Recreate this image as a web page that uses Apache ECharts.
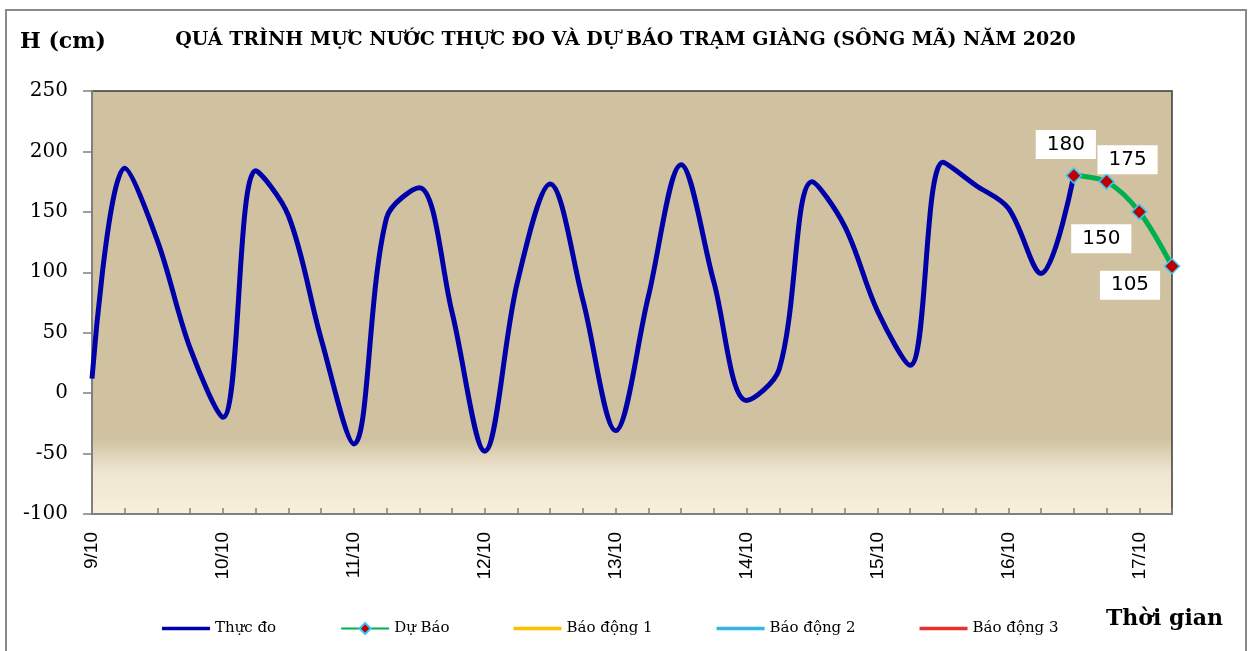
<!DOCTYPE html>
<html>
<head>
<meta charset="utf-8">
<script src="https://cdn.jsdelivr.net/npm/echarts@6/dist/echarts.min.js"></script>
<style>
html,body{margin:0;padding:0;background:#fff;}
#c{width:1251px;height:651px;}
</style>
</head>
<body>
<div id="c"></div>
<script>
// ---- data ----
const categories = [
 '9/10 00h','9/10 06h','9/10 12h','9/10 18h',
 '10/10 00h','10/10 06h','10/10 12h','10/10 18h',
 '11/10 00h','11/10 06h','11/10 12h','11/10 18h',
 '12/10 00h','12/10 06h','12/10 12h','12/10 18h',
 '13/10 00h','13/10 06h','13/10 12h','13/10 18h',
 '14/10 00h','14/10 06h','14/10 12h','14/10 18h',
 '15/10 00h','15/10 06h','15/10 12h','15/10 18h',
 '16/10 00h','16/10 06h','16/10 12h','16/10 18h',
 '17/10 00h','17/10 06h'
];
const observed = [12,186,126,37, -20,184,147,45, -42,145,170,67, -48,92,173,77,
 -31,80,189,92, -6,20,175,138, 68,23,191,172, 153,99,180,null, null,null];
const forecast = [null,null,null,null,null,null,null,null,null,null,null,null,
 null,null,null,null,null,null,null,null,null,null,null,null,null,null,null,null,
 null,null,180,175,150,105];
const alarm1 = [];
const alarm2 = [];
const alarm3 = [];
const yTicks = {min:-100, max:250, interval:50};

const titleText = 'QUÁ TRÌNH MỰC NƯỚC THỰC ĐO VÀ DỰ BÁO TRẠM GIÀNG (SÔNG MÃ) NĂM 2020';

// label offsets for forecast points (style only)
const fcOffsets = {30:[-8,-31],31:[21,-22],32:[-38,27],33:[-42,19]};

const chart = echarts.init(document.getElementById('c'));
const serif = 'DejaVu Serif';
const lineIcon = 'path://M0,0 L48,0 L48,3.5 L0,3.5 Z';
const fcData = forecast.map((v,i)=> v==null ? null : {
  value:v,
  label:{show:true, position:'inside', offset:fcOffsets[i]}
});

chart.setOption({
  animation:false,
  backgroundColor:'#fff',
  graphic:[{type:'rect', shape:{x:6,y:10,width:1240,height:660},
    style:{fill:'none', stroke:'#8a8a8a', lineWidth:2}, silent:true, z:-1}],
  title:[
    {text:titleText, left:'center', top:26,
     textStyle:{fontFamily:serif, fontWeight:'bold', fontSize:19, color:'#000'}},
    {text:'H (cm)', left:15, top:26,
     textStyle:{fontFamily:serif, fontWeight:'bold', fontSize:22, color:'#000'}},
    {text:'Thời gian', left:1101, top:603,
     textStyle:{fontFamily:serif, fontWeight:'bold', fontSize:22, color:'#000'}}
  ],
  legend:{
    left:157, top:616, itemWidth:48, itemHeight:14, itemGap:64,
    textStyle:{fontFamily:serif, fontSize:15, color:'#000'},
    data:[
      {name:'Thực đo', icon:lineIcon},
      {name:'Dự Báo'},
      {name:'Báo động 1', icon:lineIcon},
      {name:'Báo động 2', icon:lineIcon},
      {name:'Báo động 3', icon:lineIcon}
    ]
  },
  grid:{left:92, right:79, top:91, bottom:137, show:true,
    borderColor:'#3a3a3a', borderWidth:1.5,
    backgroundColor:{type:'linear',x:0,y:0,x2:0,y2:1,colorStops:[
      {offset:0,color:'#D0C2A0'},{offset:0.82,color:'#D0C2A0'},
      {offset:0.9,color:'#EFE6D1'},{offset:1,color:'#F8EFDC'}]}
  },
  xAxis:{
    type:'category', data:categories, boundaryGap:false,
    axisLine:{onZero:false, lineStyle:{color:'#808080', width:2}},
    axisTick:{inside:true, length:6, interval:0, lineStyle:{color:'#808080', width:1.5}},
    axisLabel:{interval:3, rotate:90, margin:18, color:'#000',
      fontFamily:'Liberation Sans', fontSize:19,
      formatter:v=>v.split(' ')[0]},
    splitLine:{show:false}
  },
  yAxis:{
    type:'value', min:yTicks.min, max:yTicks.max, interval:yTicks.interval,
    axisLine:{show:true, lineStyle:{color:'#808080', width:2}},
    axisTick:{show:true, length:9, lineStyle:{color:'#808080', width:1.5}},
    axisLabel:{color:'#000', fontFamily:serif, fontSize:20, margin:24},
    splitLine:{show:false}
  },
  series:[
    {name:'Thực đo', type:'line', data:observed, smooth:0.34, symbol:'none',
     lineStyle:{color:'#0000A8', width:5}, itemStyle:{color:'#0000A8'}, z:2},
    {name:'Dự Báo', type:'line', data:fcData, smooth:0.34, symbol:'diamond', symbolSize:15,
     lineStyle:{color:'#00B050', width:5},
     itemStyle:{color:'#C00000', borderColor:'#33CCFF', borderWidth:1.5},
     label:{show:true, color:'#000', fontFamily:'DejaVu Sans', fontSize:20,
       backgroundColor:'#fff', padding:[5,11,4,11]}, z:3},
    {name:'Báo động 1', type:'line', data:alarm1, lineStyle:{color:'#FFC000', width:3}, itemStyle:{color:'#FFC000'}, symbol:'none'},
    {name:'Báo động 2', type:'line', data:alarm2, lineStyle:{color:'#33B5E5', width:3}, itemStyle:{color:'#33B5E5'}, symbol:'none'},
    {name:'Báo động 3', type:'line', data:alarm3, lineStyle:{color:'#E83030', width:3}, itemStyle:{color:'#E83030'}, symbol:'none'}
  ]
});
</script>
</body>
</html>
